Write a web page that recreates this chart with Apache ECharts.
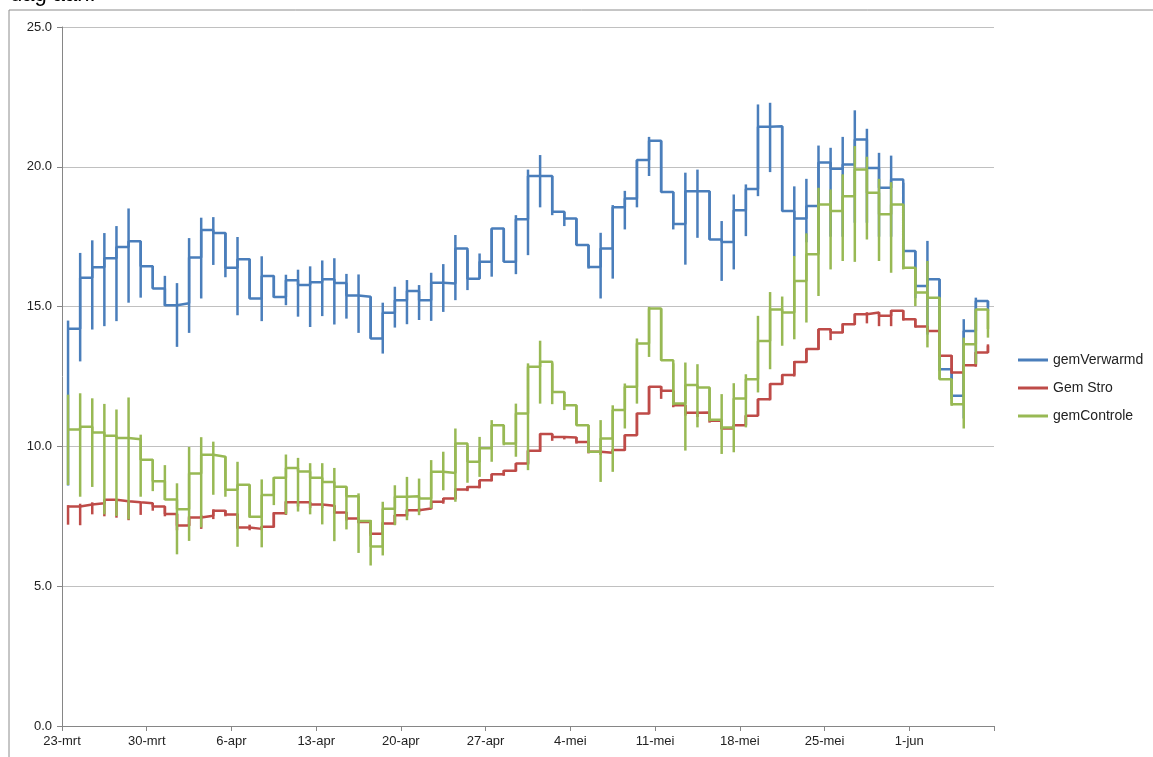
<!DOCTYPE html>
<html>
<head>
<meta charset="utf-8">
<title>gemVerwarmd / Gem Stro / gemControle</title>
<script src="https://cdn.jsdelivr.net/npm/echarts@6/dist/echarts.min.js"></script>
<style>
  html, body { margin: 0; padding: 0; background: #fff; }
  #chart { width: 1153px; height: 757px; }
</style>
</head>
<body>
<div id="chart"></div>
<script>
// tick labels op de datumas (elke 7 dagen, laatste tick zonder label)
var tickLabels = ['23-mrt', '30-mrt', '6-apr', '13-apr', '20-apr', '27-apr', '4-mei', '11-mei', '18-mei', '25-mei', '1-jun', ''];

// daggemiddelden, 23-mrt t/m 7-jun
var gemVerwarmd = [14.21, 16.03, 16.41, 16.73, 17.13, 17.34, 16.44, 15.65, 15.05, 15.12,
    16.76, 17.74, 17.63, 16.39, 16.69, 15.29, 16.09, 15.34, 15.94, 15.77,
    15.87, 15.98, 15.84, 15.4, 15.35, 13.86, 14.78, 15.23, 15.56, 15.23,
    15.85, 15.83, 17.08, 16.0, 16.6, 17.79, 16.6, 18.12, 19.67, 19.67,
    18.39, 18.15, 17.2, 16.42, 17.08, 18.55, 18.87, 20.24, 20.93, 19.1,
    17.95, 19.13, 19.13, 17.4, 17.31, 18.45, 19.21, 21.43, 21.45, 18.42,
    18.15, 18.6, 20.15, 19.93, 20.08, 20.98, 19.96, 19.25, 19.55, 16.99,
    15.74, 15.98, 12.76, 11.81, 14.13, 15.2, 15.0];
var gemVerwarmdMin = [8.6, 13.04, 14.18, 14.3, 14.48, 15.14, 15.32, 15.65, 15.02, 13.56,
    14.06, 15.29, 16.49, 16.05, 14.69, 15.29, 14.48, 15.32, 15.05, 14.64,
    14.27, 14.66, 14.36, 14.57, 14.06, 13.86, 13.32, 14.25, 14.37, 14.52,
    14.49, 14.81, 15.23, 15.59, 16.0, 16.07, 16.6, 16.16, 16.84, 18.55,
    18.27, 17.88, 17.2, 16.36, 15.29, 16.0, 17.76, 18.55, 19.67, 19.1,
    17.76, 16.5, 17.46, 17.4, 15.92, 16.33, 17.52, 18.95, 19.81, 18.42,
    16.8, 17.3, 17.0, 17.5, 17.5, 18.0, 18.0, 17.5, 17.5, 16.4,
    15.3, 14.0, 12.7, 11.7, 11.0, 13.0, 14.85];
var gemVerwarmdMax = [14.5, 16.92, 17.37, 17.63, 17.88, 18.51, 17.34, 16.44, 16.1, 15.84,
    17.45, 18.18, 18.2, 17.64, 17.49, 16.71, 16.8, 16.1, 16.14, 16.32,
    16.44, 16.65, 16.73, 16.17, 16.15, 15.35, 15.14, 15.71, 15.95, 15.77,
    16.21, 16.52, 17.56, 17.02, 16.9, 17.79, 17.79, 18.27, 19.9, 20.42,
    19.67, 18.39, 18.15, 17.2, 17.64, 18.63, 19.14, 20.24, 21.07, 20.93,
    19.1, 19.79, 19.9, 19.13, 18.06, 19.01, 19.37, 22.23, 22.29, 21.45,
    19.3, 19.57, 20.76, 20.68, 21.07, 22.02, 21.36, 20.5, 20.4, 19.43,
    16.99, 17.35, 15.98, 12.8, 14.55, 15.32, 15.2];

var gemStro = [7.85, 7.92, 7.97, 8.09, 8.04, 8.0, 7.97, 7.85, 7.58, 7.17,
    7.46, 7.52, 7.7, 7.56, 7.1, 7.05, 7.13, 7.61, 8.0, 8.0,
    7.92, 7.88, 7.64, 7.42, 7.3, 6.88, 7.24, 7.54, 7.72, 7.78,
    8.02, 8.14, 8.46, 8.55, 8.79, 9.0, 9.13, 9.39, 9.84, 10.44,
    10.34, 10.32, 10.16, 9.81, 9.77, 9.87, 10.4, 11.18, 12.13, 11.99,
    11.47, 11.2, 11.21, 10.92, 10.64, 10.76, 11.1, 11.69, 12.23, 12.55,
    13.02, 13.48, 14.19, 14.07, 14.37, 14.73, 14.79, 14.67, 14.85, 14.55,
    14.29, 14.13, 13.24, 12.64, 12.9, 13.36, 13.6];
var gemStroMin = [7.2, 7.18, 7.57, 7.5, 7.45, 7.36, 7.55, 7.7, 7.5, 7.0,
    7.15, 7.05, 7.4, 7.5, 7.05, 7.0, 7.0, 7.1, 7.55, 7.85,
    7.8, 7.8, 7.6, 7.35, 7.25, 6.8, 6.85, 7.2, 7.5, 7.65,
    7.75, 7.95, 8.1, 8.4, 8.5, 8.75, 8.95, 9.1, 9.35, 9.8,
    10.2, 10.25, 10.1, 9.75, 9.7, 9.75, 9.85, 10.4, 11.15, 11.7,
    11.4, 11.1, 11.05, 10.85, 10.6, 10.62, 10.75, 11.1, 11.65, 12.2,
    12.5, 13.0, 13.45, 13.8, 14.05, 14.35, 14.4, 14.3, 14.3, 14.5,
    14.25, 14.1, 13.2, 12.6, 12.6, 12.85, 13.35];
var gemStroMax = [7.9, 7.95, 8.0, 8.1, 8.1, 8.05, 8.0, 7.97, 7.85, 7.6,
    7.5, 7.55, 7.75, 7.72, 7.6, 7.2, 7.15, 7.65, 8.05, 8.05,
    8.0, 7.95, 7.9, 7.66, 7.45, 7.3, 7.3, 7.55, 7.75, 7.8,
    8.05, 8.15, 8.5, 8.58, 8.8, 9.02, 9.15, 9.4, 9.86, 10.46,
    10.45, 10.36, 10.33, 10.17, 9.82, 9.9, 10.42, 11.2, 12.15, 12.15,
    12.0, 11.48, 11.25, 11.22, 10.93, 10.78, 11.12, 11.7, 12.25, 12.57,
    13.05, 13.5, 14.2, 14.2, 14.4, 14.75, 14.8, 14.8, 14.87, 14.87,
    14.57, 14.3, 14.15, 13.26, 12.92, 13.38, 13.65];

var gemControle = [10.6, 10.7, 10.5, 10.38, 10.3, 10.26, 9.52, 8.75, 8.1, 7.75,
    9.03, 9.7, 9.63, 8.45, 8.63, 7.48, 8.26, 8.88, 9.23, 9.1,
    8.88, 8.73, 8.56, 8.22, 7.33, 6.42, 7.77, 8.2, 8.22, 8.14,
    9.09, 9.05, 10.1, 9.45, 9.93, 10.76, 10.1, 11.18, 12.85, 13.03,
    11.95, 11.47, 10.76, 9.81, 10.28, 11.3, 12.13, 13.68, 14.93, 13.08,
    11.53, 12.2, 12.11, 10.95, 10.68, 11.71, 12.4, 13.77, 14.9, 14.79,
    15.92, 16.87, 18.65, 18.42, 18.95, 19.9, 19.07, 18.3, 18.65, 16.39,
    15.5, 15.32, 12.4, 11.51, 13.65, 14.9, 14.2];
var gemControleMin = [8.62, 8.2, 8.55, 7.57, 7.51, 7.39, 8.2, 8.4, 8.08, 6.14,
    6.62, 7.1, 8.27, 8.2, 6.41, 7.45, 6.39, 7.9, 7.57, 7.67,
    7.57, 7.21, 6.61, 7.03, 6.19, 5.74, 6.1, 7.18, 7.36, 7.54,
    7.78, 8.43, 8.02, 8.7, 8.91, 9.45, 10.04, 9.63, 9.15, 11.53,
    11.51, 11.3, 10.76, 9.77, 8.73, 9.09, 10.64, 11.53, 13.2, 13.08,
    11.47, 9.85, 10.68, 10.9, 9.73, 9.79, 10.68, 11.93, 12.76, 13.6,
    13.83, 14.43, 15.38, 16.33, 16.63, 16.6, 17.4, 16.63, 16.21, 16.33,
    15.02, 13.54, 12.4, 11.45, 10.64, 12.94, 13.89];
var gemControleMax = [11.85, 11.9, 11.72, 11.52, 11.32, 11.75, 10.42, 9.52, 9.33, 8.68,
    9.98, 10.33, 10.17, 9.64, 9.45, 8.63, 8.82, 8.9, 9.71, 9.59,
    9.4, 9.4, 9.23, 8.56, 8.32, 7.37, 8.02, 8.61, 8.91, 8.85,
    9.51, 9.81, 10.64, 10.04, 10.34, 10.94, 10.76, 11.53, 12.97, 13.78,
    12.97, 11.95, 11.47, 10.76, 10.94, 11.47, 12.25, 13.86, 14.99, 14.93,
    12.97, 13.0, 12.94, 12.1, 11.87, 12.26, 12.58, 14.67, 15.52, 15.36,
    16.81, 17.62, 19.25, 19.19, 19.73, 20.74, 20.36, 19.57, 19.45, 18.65,
    16.39, 16.63, 15.32, 12.4, 13.89, 14.9, 14.9];

var kleuren = ['#4a7ebb', '#be4b48', '#98b954'];
var chart = echarts.init(document.getElementById('chart'));

// punt midden op de dag
function lijn(vals) {
    return vals.map(function (v, i) { return [i + 0.5, v]; });
}
function balken(lo, hi) {
    return lo.map(function (v, i) { return [i + 0.5, v, hi[i]]; });
}
function renderBalk(params, api) {
    var a = api.coord([api.value(0), api.value(1)]);
    var b = api.coord([api.value(0), api.value(2)]);
    return {
        type: 'line',
        shape: { x1: a[0], y1: a[1], x2: b[0], y2: b[1] },
        style: { stroke: api.visual('color'), lineWidth: 2.5 }
    };
}

var reeksen = [
    { naam: 'gemVerwarmd', v: gemVerwarmd, lo: gemVerwarmdMin, hi: gemVerwarmdMax },
    { naam: 'Gem Stro', v: gemStro, lo: gemStroMin, hi: gemStroMax },
    { naam: 'gemControle', v: gemControle, lo: gemControleMin, hi: gemControleMax }
];

var series = [];
reeksen.forEach(function (r, k) {
    series.push({
        name: r.naam, type: 'line', step: 'end', data: lijn(r.v),
        showSymbol: false, symbol: 'none', z: 2 + k * 2,
        lineStyle: { color: kleuren[k], width: 2.5 }, itemStyle: { color: kleuren[k] },
        animation: false
    });
    series.push({
        name: r.naam, type: 'custom', data: balken(r.lo, r.hi), renderItem: renderBalk,
        itemStyle: { color: kleuren[k] }, z: 3 + k * 2, animation: false,
        encode: { x: 0, y: [1, 2] }
    });
});

var option = {
    animation: false,
    textStyle: { fontFamily: 'Liberation Sans' },
    graphic: [
        { type: 'rect', shape: { x: 9, y: 10, width: 1160, height: 770 },
          style: { fill: null, stroke: '#8c8c8c', lineWidth: 1 }, silent: true },
        { type: 'text', left: 10, top: -16,
          style: { text: 'dag aan.', font: '22px "Liberation Sans"', fill: '#000' } }
    ],
    grid: { left: 62, right: 159, top: 27, bottom: 31 },
    legend: {
        orient: 'vertical', left: 1013, top: 348, itemGap: 14,
        itemWidth: 30, itemHeight: 3, icon: 'rect',
        data: ['gemVerwarmd', 'Gem Stro', 'gemControle'],
        textStyle: { color: '#222', fontSize: 14, fontFamily: 'Liberation Sans' }
    },
    xAxis: {
        type: 'value', min: 0, max: 77, interval: 7,
        axisLine: { lineStyle: { color: '#868686' } },
        axisTick: { show: true, length: 5, lineStyle: { color: '#868686' } },
        splitLine: { show: false },
        axisLabel: {
            color: '#222', fontSize: 13, margin: 9,
            formatter: function (v) { return tickLabels[Math.round(v / 7)]; }
        }
    },
    yAxis: {
        type: 'value', min: 0, max: 25, interval: 5,
        axisLine: { show: true, lineStyle: { color: '#868686' } },
        axisTick: { show: true, length: 5, lineStyle: { color: '#868686' } },
        splitLine: { lineStyle: { color: '#c0c0c0' } },
        axisLabel: {
            color: '#222', fontSize: 13, margin: 10,
            formatter: function (v) { return v.toFixed(1); }
        }
    },
    series: series
};
chart.setOption(option);
</script>
</body>
</html>
